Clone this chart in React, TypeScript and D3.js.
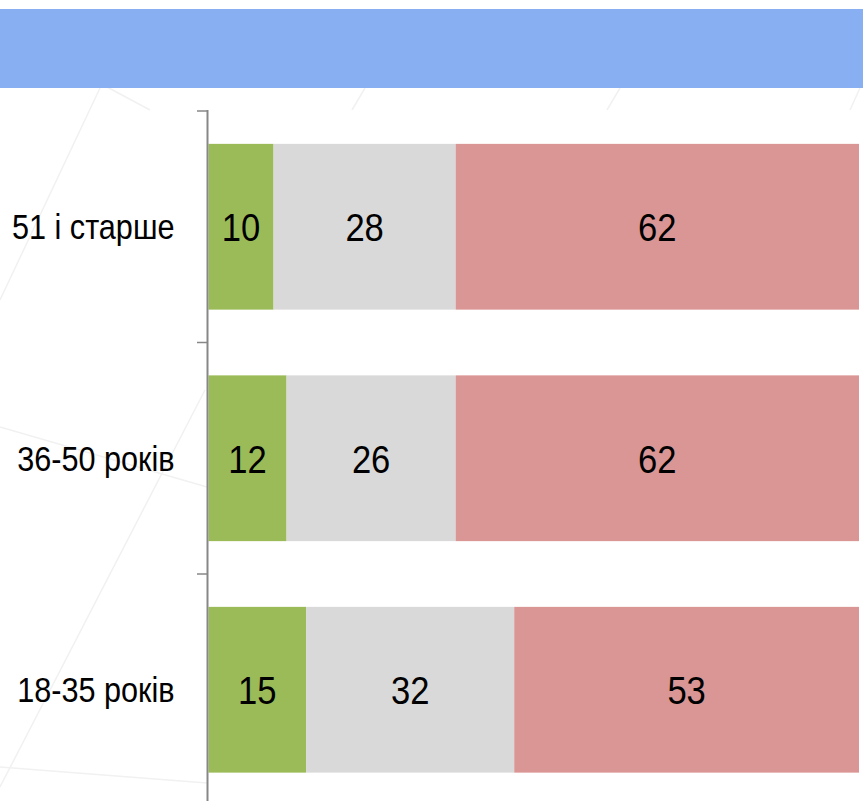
import React from "react";
import * as d3 from "d3";

const categories = ["51 і старше", "36-50 років", "18-35 років"];
const greenValues = [10, 12, 15];
const grayValues = [28, 26, 32];
const redValues = [62, 62, 53];
const seriesColors = ["#9BBB59", "#D9D9D9", "#D99694"];

const W = 863;
const H = 801;
const SX = 0.875;

export default function App() {
  const x = d3.scaleLinear().domain([0, 100]).range([208.5, 859]);
  const y = d3
    .scaleBand<string>()
    .domain(categories)
    .range([111, 805.5])
    .paddingInner(0.284)
    .paddingOuter(0.142);
  const step = y.step();
  const series = [greenValues, grayValues, redValues];
  const tickYs = categories.map((c) => (y(c) as number) - (step - y.bandwidth()) / 2);

  const bgLines: [number, number, number, number][] = [
    [100, 88, 0, 300],
    [205, 390, 0, 787],
    [0, 427, 207, 487],
    [0, 767, 207, 783],
    [107, 87, 150, 110],
    [365, 88, 352, 110],
    [620, 88, 607, 110],
    [860, 88, 850, 110],
  ];

  return (
    <svg width={W} height={H} style={{ position: "absolute", left: 0, top: 0 }}>
      <rect x={0} y={0} width={W} height={H} fill="#ffffff" />
      {bgLines.map((l, i) => (
        <line key={i} x1={l[0]} y1={l[1]} x2={l[2]} y2={l[3]} stroke="#f1f1f1" strokeWidth={1.5} />
      ))}
      <rect x={207} y={110} width={W - 207} height={H - 110} fill="#ffffff" />
      <rect x={0} y={9} width={W} height={79} fill="#89AFF3" />
      {categories.map((c, i) => {
        let acc = 0;
        const y0 = y(c) as number;
        const cy = y0 + y.bandwidth() / 2;
        return (
          <g key={c}>
            {series.map((s, j) => {
              const v = s[i];
              const x0 = x(acc);
              const x1 = x(acc + v);
              acc += v;
              return (
                <g key={j}>
                  <rect x={x0} y={y0} width={x1 - x0} height={y.bandwidth()} fill={seriesColors[j]} />
                  <text
                    transform={`translate(${(x0 + x1) / 2},${cy + 14.5}) scale(${SX},1)`}
                    textAnchor="middle"
                    fontFamily="'Liberation Sans', Arial, sans-serif"
                    fontSize={39.5}
                    fill="#000000"
                  >
                    {v}
                  </text>
                </g>
              );
            })}
            <text
              transform={`translate(174.5,${cy + 12.5}) scale(${SX},1)`}
              textAnchor="end"
              fontFamily="'Liberation Sans', Arial, sans-serif"
              fontSize={35}
              fill="#000000"
            >
              {c}
            </text>
          </g>
        );
      })}
      <line x1={207.5} y1={110} x2={207.5} y2={H} stroke="#878787" strokeWidth={2} />
      {tickYs.map((t, i) => (
        <line key={i} x1={197} y1={t} x2={207.5} y2={t} stroke="#878787" strokeWidth={1.5} />
      ))}
    </svg>
  );
}
